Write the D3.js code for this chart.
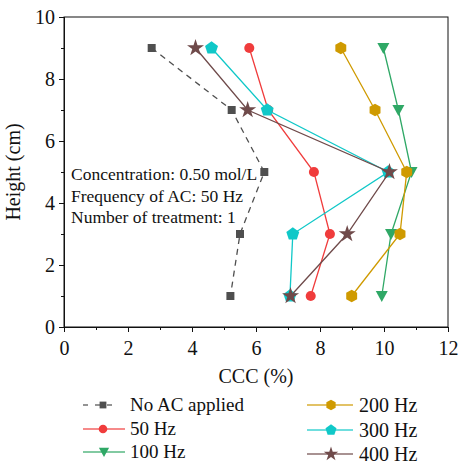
<!DOCTYPE html>
<html>
<head>
<meta charset="utf-8">
<script src="https://cdn.jsdelivr.net/npm/d3@7"></script>
<style>
  body { margin: 0; background: #fff; }
  text { font-family: "Liberation Serif", "Times New Roman", serif; fill: #111; }
</style>
</head>
<body>
<script>
// Data
var heights = [9, 7, 5, 3, 1];
var seriesNames = ["No AC applied", "50 Hz", "100 Hz", "200 Hz", "300 Hz", "400 Hz"];
var noAC   = [2.74, 5.24, 6.26, 5.50, 5.20];
var hz50   = [5.79, 6.38, 7.81, 8.31, 7.71];
var hz100  = [9.98, 10.45, 10.86, 10.22, 9.93];
var hz200  = [8.65, 9.72, 10.71, 10.50, 8.99];
var hz300  = [4.61, 6.35, 10.13, 7.15, 7.06];
var hz400  = [4.11, 5.74, 10.17, 8.85, 7.08];
var xTicks = [0, 2, 4, 6, 8, 10, 12];
var yTicks = [0, 2, 4, 6, 8, 10];
var notes = ["Concentration: 0.50 mol/L", "Frequency of AC: 50 Hz", "Number of treatment: 1"];

var colors = ["#4f4f4f", "#f03c3c", "#2fa866", "#cf9a00", "#10c8c8", "#6f4a4a"];
var shapes = ["square", "circle", "tri", "hex", "pent", "star"];
var allValues = [noAC, hz50, hz100, hz200, hz300, hz400];

var W = 458, H = 466;
var margin = {top: 17, left: 64};
var plotW = 448 - margin.left, plotH = 327 - margin.top;

var svg = d3.select("body").append("svg")
    .attr("width", W).attr("height", H);

var x = d3.scaleLinear().domain([0, 12]).range([margin.left, margin.left + plotW]);
var y = d3.scaleLinear().domain([0, 10]).range([margin.top + plotH, margin.top]);

// frame
svg.append("rect")
    .attr("x", x(0)).attr("y", y(10))
    .attr("width", x(12) - x(0)).attr("height", y(0) - y(10))
    .attr("fill", "none").attr("stroke", "#111").attr("stroke-width", 1);

// x axis
var xAxis = svg.append("g")
    .attr("transform", "translate(0," + y(0) + ")")
    .call(d3.axisBottom(x).tickValues(xTicks).tickSize(5).tickFormat(d3.format("d")));
svg.append("g")
    .attr("transform", "translate(0," + y(0) + ")")
    .call(d3.axisBottom(x).tickValues(d3.range(1, 12, 2)).tickSize(3).tickFormat(""));

// y axis
var yAxis = svg.append("g")
    .attr("transform", "translate(" + x(0) + ",0)")
    .call(d3.axisLeft(y).tickValues(yTicks).tickSize(5).tickFormat(d3.format("d")));
svg.append("g")
    .attr("transform", "translate(" + x(0) + ",0)")
    .call(d3.axisLeft(y).tickValues(d3.range(1, 10, 2)).tickSize(3).tickFormat(""));

svg.selectAll(".domain").attr("stroke", "#111");
svg.selectAll(".tick line").attr("stroke", "#111");
xAxis.selectAll("text").attr("font-size", "20px").attr("y", 14).attr("dy", "0.7em")
    .style("font-family", "'Liberation Serif', serif").attr("fill", "#111");
yAxis.selectAll("text").attr("font-size", "20px").attr("x", -9).attr("dy", "0.33em")
    .style("font-family", "'Liberation Serif', serif").attr("fill", "#111");

// axis titles
svg.append("text")
    .attr("x", x(6)).attr("y", 383)
    .attr("text-anchor", "middle").attr("font-size", "20px")
    .text("CCC (%)");
svg.append("text")
    .attr("transform", "translate(20," + y(5) + ") rotate(-90)")
    .attr("text-anchor", "middle").attr("font-size", "20px")
    .text("Height (cm)");

// marker shapes
function polyPath(n, r, rot) {
  var pts = [];
  for (var i = 0; i < n; i++) {
    var a = rot + i * 2 * Math.PI / n;
    pts.push([r * Math.cos(a), r * Math.sin(a)]);
  }
  return "M" + pts.map(function(p){ return p[0].toFixed(2) + "," + p[1].toFixed(2); }).join("L") + "Z";
}
function markerPath(s, k) {
  k = k || 1;
  if (s === "square") return "M" + (-4*k) + "," + (-4*k) + "h" + 8*k + "v" + 8*k + "h" + (-8*k) + "Z";
  if (s === "circle") return d3.symbol(d3.symbolCircle, 80 * k * k)();
  if (s === "tri") return "M" + (-6*k) + "," + (-5*k) + "L" + 6*k + "," + (-5*k) + "L0," + 6*k + "Z";
  if (s === "hex") return polyPath(6, 6.3 * k, Math.PI / 2);
  if (s === "pent") return polyPath(5, 6.8 * k, -Math.PI / 2);
  if (s === "star") return d3.symbol(d3.symbolStar, 90 * k * k)();
}

var line = d3.line()
    .x(function(d){ return x(d[0]); })
    .y(function(d){ return y(d[1]); });

allValues.forEach(function(vals, i) {
  var pts = vals.map(function(v, j){ return [v, heights[j]]; });
  svg.append("path")
      .datum(pts)
      .attr("d", line)
      .attr("fill", "none")
      .attr("stroke", colors[i])
      .attr("stroke-width", 1.3)
      .attr("stroke-dasharray", i === 0 ? "6,5" : null);
  svg.selectAll(".m" + i)
      .data(pts)
      .enter().append("path")
      .attr("class", "m" + i)
      .attr("d", markerPath(shapes[i]))
      .attr("transform", function(d){ return "translate(" + x(d[0]) + "," + y(d[1]) + ")"; })
      .attr("fill", colors[i]);
});

// annotation text
notes.forEach(function(t, i) {
  svg.append("text")
      .attr("x", 71).attr("y", 180 + i * 21.5)
      .attr("font-size", "17.5px")
      .text(t);
});

// legend
var legPos = [
  {lx: 83, rx: 118, mx: 103, tx: 130, ty: 405, fs: 19},
  {lx: 83, rx: 125, mx: 103, tx: 130, ty: 429, fs: 19},
  {lx: 83, rx: 125, mx: 104, tx: 130, ty: 452, fs: 19},
  {lx: 307, rx: 353, mx: 331, tx: 359, ty: 405, fs: 20},
  {lx: 307, rx: 353, mx: 331, tx: 359, ty: 430, fs: 20},
  {lx: 307, rx: 353, mx: 331, tx: 359, ty: 454, fs: 20}
];
seriesNames.forEach(function(name, i) {
  var p = legPos[i];
  var g = svg.append("g");
  g.append("line")
      .attr("x1", p.lx).attr("x2", p.rx).attr("y1", p.ty).attr("y2", p.ty)
      .attr("stroke", colors[i]).attr("stroke-width", 1.3).attr("opacity", 0.8)
      .attr("stroke-dasharray", i === 0 ? "5,7" : null);
  g.append("path")
      .attr("d", markerPath(shapes[i], 0.85))
      .attr("transform", "translate(" + p.mx + "," + p.ty + ")")
      .attr("fill", colors[i]);
  g.append("text")
      .attr("x", p.tx).attr("y", p.ty)
      .attr("dy", "0.33em")
      .attr("font-size", p.fs + "px")
      .text(name);
});
</script>
</body>
</html>
